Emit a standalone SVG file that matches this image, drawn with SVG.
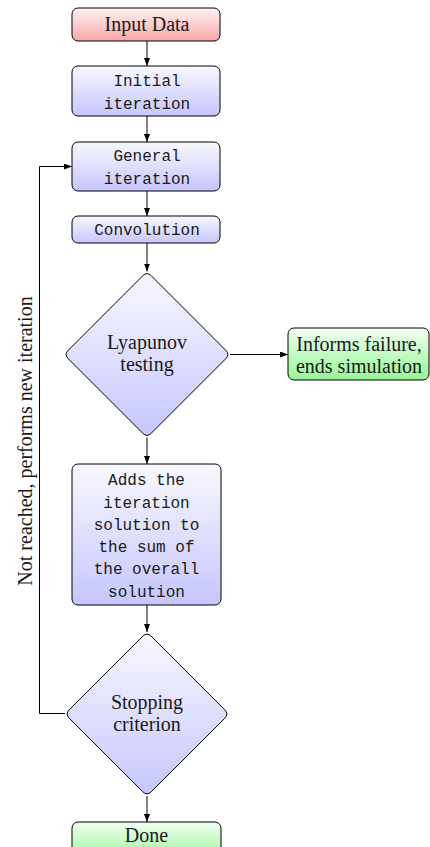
<svg xmlns="http://www.w3.org/2000/svg" width="430" height="847" viewBox="0 0 430 847">
<defs>
<linearGradient id="gRed" x1="0" y1="0" x2="0" y2="1"><stop offset="0" stop-color="#fff4f4"/><stop offset="1" stop-color="#f7a6a6"/></linearGradient>
<linearGradient id="gBlue" x1="0" y1="0" x2="0" y2="1"><stop offset="0" stop-color="#f8f8ff"/><stop offset="1" stop-color="#c6c6fc"/></linearGradient>
<linearGradient id="gGreen" x1="0" y1="0" x2="0" y2="1"><stop offset="0" stop-color="#f2fff2"/><stop offset="1" stop-color="#96f596"/></linearGradient>
<marker id="arr" viewBox="0 0 8 6" refX="8" refY="3" markerWidth="8" markerHeight="6" markerUnits="userSpaceOnUse" orient="auto">
<path d="M0,0 L8,3 L0,6 Z" fill="#000"/>
</marker>
</defs>
<style>
.box{stroke:#000;stroke-width:1}
.red{fill:url(#gRed)}
.blue{fill:url(#gBlue)}
.green{fill:url(#gGreen)}
.serif{font-family:"Liberation Serif","DejaVu Serif",serif;font-size:20px;fill:#1a1a1a;text-anchor:middle}
.mono{font-family:"Liberation Mono","DejaVu Sans Mono",monospace;font-size:16px;fill:#1a1a1a;text-anchor:middle}
.edge{stroke:#000;stroke-width:1;fill:none;marker-end:url(#arr)}
</style>
<g id="connectors">
<line class="edge" x1="147" y1="41" x2="147" y2="66"/>
<line class="edge" x1="147" y1="116" x2="147" y2="142"/>
<line class="edge" x1="147" y1="191" x2="147" y2="216"/>
<line class="edge" x1="147" y1="243" x2="147" y2="271.5"/>
<line class="edge" x1="230" y1="354.5" x2="288" y2="354.5"/>
<line class="edge" x1="147" y1="437.5" x2="147" y2="464"/>
<line class="edge" x1="147" y1="605" x2="147" y2="632"/>
<line class="edge" x1="147" y1="796" x2="147" y2="822"/>
<polyline class="edge" points="65,713.5 39.5,713.5 39.5,166.5 72,166.5"/>
<text class="serif" transform="translate(31.5,441) rotate(-90)" x="0" y="0">Not reached, performs new iteration</text>
</g>
<g id="input">
<rect class="box red" x="72" y="8" width="148" height="33" rx="6"/>
<text class="serif" x="147" y="30.5">Input Data</text>
</g>
<g id="initial">
<rect class="box blue" x="72" y="66" width="148" height="50" rx="6"/>
<text class="mono" x="147" y="85.5">Initial</text>
<text class="mono" x="147" y="108.5">iteration</text>
</g>
<g id="general">
<rect class="box blue" x="72" y="142" width="148" height="49" rx="6"/>
<text class="mono" x="147" y="160.5">General</text>
<text class="mono" x="147" y="183.5">iteration</text>
</g>
<g id="convolution">
<rect class="box blue" x="72" y="216" width="148" height="27" rx="6"/>
<text class="mono" x="147" y="235">Convolution</text>
</g>
<g id="lyapunov">
<path class="box blue" d="M142.8,275.7 Q147,271.5 151.2,275.7 L225.8,350.3 Q230,354.5 225.8,358.7 L151.2,433.3 Q147,437.5 142.8,433.3 L68.2,358.7 Q64,354.5 68.2,350.3 Z"/>
<text class="serif" x="147" y="349">Lyapunov</text>
<text class="serif" x="147" y="371">testing</text>
</g>
<g id="failure">
<rect class="box green" x="288" y="328" width="141" height="52" rx="6"/>
<text class="serif" x="359" y="351">Informs failure,</text>
<text class="serif" x="359" y="372.5">ends simulation</text>
</g>
<g id="adds">
<rect class="box blue" x="72" y="464" width="149" height="141" rx="6"/>
<text class="mono" x="146.5" y="485">Adds the</text>
<text class="mono" x="146.5" y="508">iteration</text>
<text class="mono" x="146.5" y="530">solution to</text>
<text class="mono" x="146.5" y="552">the sum of</text>
<text class="mono" x="146.5" y="574">the overall</text>
<text class="mono" x="146.5" y="597">solution</text>
</g>
<g id="stopping">
<path class="box blue" d="M142.8,636.2 Q147,632 151.2,636.2 L224.8,709.8 Q229,714 224.8,718.2 L151.2,791.8 Q147,796 142.8,791.8 L69.2,718.2 Q65,714 69.2,709.8 Z"/>
<text class="serif" x="147" y="709">Stopping</text>
<text class="serif" x="147" y="731">criterion</text>
</g>
<g id="done">
<rect class="box green" x="72" y="822" width="149" height="40" rx="6"/>
<text class="serif" x="146.5" y="842">Done</text>
</g>
</svg>
